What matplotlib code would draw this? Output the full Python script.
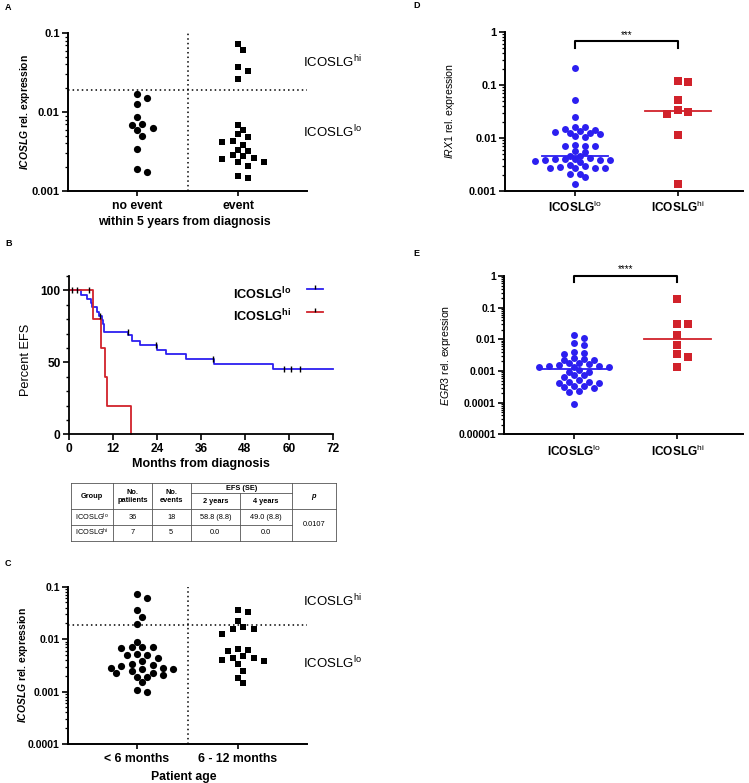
import numpy as np
import matplotlib
matplotlib.use("Agg")
import matplotlib.pyplot as plt
from matplotlib.ticker import FixedLocator, LogLocator, NullFormatter, FuncFormatter, MultipleLocator

plt.rcParams['font.family'] = ['Liberation Sans', 'DejaVu Sans']
plt.rcParams['mathtext.fontset'] = 'custom'
plt.rcParams['mathtext.rm'] = 'Liberation Sans'
plt.rcParams['mathtext.it'] = 'Liberation Sans:italic'
plt.rcParams['mathtext.bf'] = 'Liberation Sans:bold'
plt.rcParams['mathtext.bfit'] = 'Liberation Sans:italic:bold'

# panel A data
a_cats = ['no event', 'event']
a_no_event = [0.0168, 0.0127, 0.0149, 0.00865, 0.0071, 0.00634, 0.00692, 0.00586,
              0.00492, 0.0034, 0.00176, 0.00188]
a_event = [0.0719, 0.0604, 0.0372, 0.0330, 0.0262, 0.0069, 0.0060, 0.0052, 0.00478,
           0.00421, 0.00434, 0.00382, 0.00321, 0.00333, 0.00275, 0.00286, 0.00254,
           0.00264, 0.00231, 0.00231, 0.00205, 0.00148, 0.00153]
cutoff = 0.019

# panel B data (Kaplan-Meier steps)
km_lo_t = [0, 3.2, 4.8, 5.9, 6.3, 7.5, 8.1, 8.9, 9.3, 9.6, 16.2, 17.2, 19.4, 23.9, 26.5, 31.9, 39.6, 55.7, 72]
km_lo_s = [100, 97.1, 94.1, 91.2, 88.2, 85.3, 82.4, 79.4, 76.5, 71.2, 68.8, 65.1, 62.1, 58.8, 55.6, 52.1, 49.0, 45.4, 45.4]
km_hi_t = [0, 6.5, 8.6, 9.8, 10.3, 16.8]
km_hi_s = [100, 80, 60, 40, 20, 0]
cens_lo_t = [0.9, 2.3, 8.4, 16.0, 23.7, 39.4, 58.5, 60.6, 62.9]
cens_lo_s = [100, 100, 82.4, 71.2, 62.1, 52.1, 45.4, 45.4, 45.4]
cens_hi_t = [5.4]
cens_hi_s = [100]

# table under B
tbl_lo = ['ICOSLG$^{\\mathrm{lo}}$', '36', '18', '58.8 (8.8)', '49.0 (8.8)']
tbl_hi = ['ICOSLG$^{\\mathrm{hi}}$', '7', '5', '0.0', '0.0']
tbl_p = '0.0107'

# panel C data
c_cats = ['< 6 months', '6 - 12 months']
c_under6 = [0.0715, 0.060, 0.0356, 0.0265, 0.0198, 0.0089, 0.00714, 0.00685, 0.00695,
            0.00714, 0.00497, 0.00497, 0.00527, 0.00436, 0.00388, 0.00335, 0.00326,
            0.00303, 0.00286, 0.00286, 0.00273, 0.00266, 0.00243, 0.0023, 0.0023,
            0.00193, 0.00187, 0.00204, 0.0015, 0.0010, 0.00108]
c_6to12 = [0.033, 0.0366, 0.0223, 0.0167, 0.0153, 0.0153, 0.0126, 0.00583, 0.00646,
           0.0061, 0.0043, 0.00399, 0.0043, 0.00388, 0.00483, 0.00335, 0.0025,
           0.00182, 0.00146]

# panel D data
grp_cats = ['ICOSLG$^{\\mathrm{lo}}$', 'ICOSLG$^{\\mathrm{hi}}$']
d_lo = [0.212, 0.0514, 0.0249, 0.0137, 0.0126, 0.0117, 0.0148, 0.0159, 0.0164, 0.0106,
        0.0109, 0.0122, 0.0132, 0.0140, 0.00738, 0.00706, 0.00697, 0.00716, 0.00569,
        0.00537, 0.00463, 0.00463, 0.00402, 0.00413, 0.0039, 0.00368, 0.00347, 0.00385,
        0.00402, 0.0038, 0.00402, 0.00296, 0.00284, 0.00276, 0.00268, 0.00276, 0.00276,
        0.0031, 0.00212, 0.00207, 0.00184, 0.00134]
d_hi = [0.112, 0.117, 0.0514, 0.0333, 0.0284, 0.0314, 0.0116, 0.00137]
d_lo_med = 0.00464
d_hi_med = 0.0323

# panel E data
e_lo = [0.0134, 0.0113, 0.0077, 0.0068, 0.00346, 0.0040, 0.0038, 0.00235, 0.00224,
        0.00224, 0.00253, 0.00152, 0.00138, 0.00168, 0.00145, 0.00176, 0.00138, 0.00184,
        0.00138, 0.00145, 0.00108, 0.00096, 0.00096, 0.00074, 0.00052, 0.00046, 0.00041,
        0.00041, 0.00046, 0.00064, 0.00074, 0.00034, 0.0003, 0.00024, 0.00021, 0.00032,
        0.00034, 0.000091]
e_hi = [0.193, 0.0313, 0.0299, 0.0138, 0.0068, 0.00346, 0.00272, 0.00138]
e_lo_med = 0.00114
e_hi_med = 0.0103

W, H = 749, 783
fig = plt.figure(figsize=(W / 100, H / 100), dpi=100)
BLUE = '#2c1ff0'
RED = '#d1222b'


def rect(left, right, top, bottom):
    return [left / W, 1 - bottom / H, (right - left) / W, (bottom - top) / H]


def swarm(ax, xc, vals, ms, gap=0.97):
    d = ms * fig.dpi / 72.0
    pts = ax.transData.transform(np.column_stack([np.full(len(vals), xc), vals]))
    out = pts.copy()
    placed = []
    for i in np.argsort(pts[:, 1])[::-1]:
        y = pts[i, 1]
        for k in range(80):
            off = ((k + 1) // 2) * 0.72 * d * (1 if k % 2 else -1)
            x = pts[i, 0] + off
            if all((x - px) ** 2 + (y - py) ** 2 >= (gap * d) ** 2 for px, py in placed):
                break
        placed.append((x, y))
        out[i, 0] = x
    return ax.transData.inverted().transform(out)[:, 0]


def log_label(v, pos):
    return np.format_float_positional(v, trim='-')


def dot_axes(r, xlim, ylim, ticks, cats, catsize=8.8, ticksize=8.0):
    ax = fig.add_axes(r)
    ax.set_yscale('log')
    ax.set_xlim(xlim)
    ax.set_ylim(ylim)
    for s in ['top', 'right']:
        ax.spines[s].set_visible(False)
    for s in ['left', 'bottom']:
        ax.spines[s].set_linewidth(1.4)
    ax.yaxis.set_major_locator(FixedLocator(ticks))
    ax.yaxis.set_major_formatter(FuncFormatter(log_label))
    ax.yaxis.set_minor_locator(LogLocator(base=10, subs=np.arange(2, 10)))
    ax.yaxis.set_minor_formatter(NullFormatter())
    ax.tick_params(axis='y', which='major', length=4, width=1.2, labelsize=ticksize, pad=2)
    ax.tick_params(axis='y', which='minor', length=2.2, width=0.9)
    ax.set_xticks([1, 2])
    ax.set_xticklabels(cats, fontsize=catsize, fontweight='bold')
    ax.tick_params(axis='x', length=3.5, width=1.2, pad=3)
    for lab in ax.get_yticklabels():
        lab.set_fontweight('bold')
    return ax


def annotate_hilo(y_hi, y_lo):
    fig.text(303 / W, 1 - y_hi / H, 'ICOSLG$^{\\mathrm{hi}}$', fontsize=9.5, va='center', ha='left')
    fig.text(303 / W, 1 - y_lo / H, 'ICOSLG$^{\\mathrm{lo}}$', fontsize=9.5, va='center', ha='left')


# ---- panel A
axA = dot_axes(rect(68, 307, 33, 191), (0.317, 2.683), (0.001, 0.1), [0.001, 0.01, 0.1], a_cats)
axA.plot(swarm(axA, 1, a_no_event, 5.2), a_no_event, 'o', color='black', ms=5.2, mew=0, clip_on=False)
axA.plot(swarm(axA, 2, a_event, 5.2), a_event, 's', color='black', ms=4.9, mew=0, clip_on=False)
axA.axhline(cutoff, color='black', ls=(0, (1, 2)), lw=1.1)
axA.axvline(1.5, color='black', ls=(0, (1, 2)), lw=1.1)
axA.set_ylabel('$\\mathbfit{ICOSLG}$ rel. expression', fontsize=7.4, fontweight='bold')
axA.yaxis.set_label_coords(-0.15, 0.5)
axA.set_xlabel('within 5 years from diagnosis', fontsize=8.8, fontweight='bold')
axA.xaxis.set_label_coords(0.486, -0.158)
annotate_hilo(62, 132)

# ---- panel B
axB = fig.add_axes(rect(69, 333, 276, 434.3))
axB.step(km_lo_t, km_lo_s, where='post', color=BLUE, lw=1.3, clip_on=False)
axB.step(km_hi_t, km_hi_s, where='post', color=RED, lw=1.3, clip_on=False)
axB.plot(cens_lo_t, cens_lo_s, ls='none', marker='|', color='black', ms=4, mew=1.0)
axB.plot(cens_hi_t, cens_hi_s, ls='none', marker='|', color='black', ms=4, mew=1.0)
axB.set_xlim(0, 72)
axB.set_ylim(0, 110)
for s in ['top', 'right']:
    axB.spines[s].set_visible(False)
for s in ['left', 'bottom']:
    axB.spines[s].set_linewidth(1.3)
axB.set_xticks(np.arange(0, 73, 12))
axB.set_yticks([0, 50, 100])
axB.yaxis.set_minor_locator(MultipleLocator(10))
axB.tick_params(which='major', length=4, width=1.2, labelsize=8.6, pad=2)
axB.tick_params(axis='y', which='minor', length=2.5, width=1.0)
for lab in axB.get_xticklabels() + axB.get_yticklabels():
    lab.set_fontweight('bold')
axB.set_ylabel('Percent EFS', fontsize=9.2)
axB.yaxis.set_label_coords(-0.14, 0.47)
axB.set_xlabel('Months from diagnosis', fontsize=9.0, fontweight='bold')
axB.xaxis.set_label_coords(0.5, -0.148)
# legend
for yl, yt, lab, col in [(0.916, 0.885, 'ICOSLG$^{\\mathbf{lo}}$', BLUE), (0.774, 0.75, 'ICOSLG$^{\\mathbf{hi}}$', RED)]:
    axB.plot([0.902, 0.962], [yl, yl], color=col, lw=1.3, transform=axB.transAxes, clip_on=False)
    axB.plot([0.932], [yl + 0.012], marker='|', color='black', ms=3.5, mew=1.0, transform=axB.transAxes, clip_on=False)
    axB.text(0.621, yt, lab, fontsize=9.2, fontweight='bold', va='center', ha='left', transform=axB.transAxes)

# ---- table
tx = [70.7, 113.3, 151.7, 190.7, 240, 291.7, 336]
ty = [483.3, 493.3, 509.3, 525, 540.7]
lc = '#555555'


def hline(y, x0, x1):
    fig.add_artist(plt.Line2D([x0 / W, x1 / W], [1 - y / H, 1 - y / H], color=lc, lw=0.6))


def vline(x, y0, y1):
    fig.add_artist(plt.Line2D([x / W, x / W], [1 - y0 / H, 1 - y1 / H], color=lc, lw=0.6))


hline(ty[0], tx[0], tx[6])
hline(ty[1], tx[3], tx[5])
hline(ty[2], tx[0], tx[6])
hline(ty[3], tx[0], tx[5])
hline(ty[4], tx[0], tx[6])
for x in [tx[0], tx[1], tx[2], tx[3], tx[5], tx[6]]:
    vline(x, ty[0], ty[4])
vline(tx[4], ty[1], ty[4])


def cell(x, y, s, bold=False, style='normal'):
    fig.text(x / W, 1 - y / H, s, fontsize=5.3, ha='center', va='center',
             fontweight='bold' if bold else 'normal', style=style, linespacing=1.3)


hy = (ty[0] + ty[2]) / 2
cell((tx[0] + tx[1]) / 2, hy, 'Group', bold=True)
cell((tx[1] + tx[2]) / 2, hy, 'No.\npatiients', bold=True)
cell((tx[2] + tx[3]) / 2, hy, 'No.\nevents', bold=True)
cell((tx[3] + tx[5]) / 2, (ty[0] + ty[1]) / 2, 'EFS (SE)', bold=True)
cell((tx[3] + tx[4]) / 2, (ty[1] + ty[2]) / 2, '2 years', bold=True)
cell((tx[4] + tx[5]) / 2, (ty[1] + ty[2]) / 2, '4 years', bold=True)
cell((tx[5] + tx[6]) / 2, hy, 'p', bold=True, style='italic')
for row, (y0, y1) in [(tbl_lo, (ty[2], ty[3])), (tbl_hi, (ty[3], ty[4]))]:
    for j, s in enumerate(row):
        cell((tx[j] + tx[j + 1]) / 2, (y0 + y1) / 2, s)
cell((tx[5] + tx[6]) / 2, ty[3], tbl_p)

# ---- panel C
axC = dot_axes(rect(68, 307, 586.7, 744), (0.317, 2.683), (0.0001, 0.1),
               [0.0001, 0.001, 0.01, 0.1], c_cats, ticksize=7.5)
axC.plot(swarm(axC, 1, c_under6, 5.2), c_under6, 'o', color='black', ms=5.2, mew=0, clip_on=False)
axC.plot(swarm(axC, 2, c_6to12, 5.2), c_6to12, 's', color='black', ms=4.9, mew=0, clip_on=False)
axC.axhline(cutoff, color='black', ls=(0, (1, 2)), lw=1.1)
axC.axvline(1.5, color='black', ls=(0, (1, 2)), lw=1.1)
axC.set_ylabel('$\\mathbfit{ICOSLG}$ rel. expression', fontsize=7.4, fontweight='bold')
axC.yaxis.set_label_coords(-0.158, 0.5)
axC.set_xlabel('Patient age', fontsize=8.8, fontweight='bold')
axC.xaxis.set_label_coords(0.486, -0.17)
annotate_hilo(600.7, 663)

# ---- panel D
axD = dot_axes(rect(505, 743, 32, 191), (0.318, 2.635), (0.001, 1),
               [0.001, 0.01, 0.1, 1], grp_cats, catsize=8.6, ticksize=7.9)
axD.plot(swarm(axD, 1, d_lo, 5.0, gap=0.85), d_lo, 'o', color=BLUE, ms=5.0, mew=0, clip_on=False)
axD.plot(swarm(axD, 2, d_hi, 5.2), d_hi, 's', color=RED, ms=5.2, mew=0, clip_on=False)
axD.plot([0.68, 1.32], [d_lo_med, d_lo_med], color=BLUE, lw=1.3)
axD.plot([1.68, 2.32], [d_hi_med, d_hi_med], color=RED, lw=1.3)
axD.plot([1, 1, 2, 2], [0.506, 0.686, 0.686, 0.506], color='black', lw=1.5, clip_on=False)
axD.text(1.5, 0.86, '***', ha='center', va='center', fontsize=7)
axD.set_ylabel('$\\mathit{IRX1}$ rel. expression', fontsize=7.6)
axD.yaxis.set_label_coords(-0.2, 0.5)

# ---- panel E
axE = dot_axes(rect(504, 743, 276, 434.3), (0.318, 2.635), (0.00001, 1),
               [0.00001, 0.0001, 0.001, 0.01, 0.1, 1], grp_cats, catsize=8.6, ticksize=7.5)
axE.plot(swarm(axE, 1, e_lo, 5.0, gap=0.85), e_lo, 'o', color=BLUE, ms=5.0, mew=0, clip_on=False)
axE.plot(swarm(axE, 2, e_hi, 5.2), e_hi, 's', color=RED, ms=5.2, mew=0, clip_on=False)
axE.plot([0.68, 1.32], [e_lo_med, e_lo_med], color=BLUE, lw=1.3)
axE.plot([1.68, 2.32], [e_hi_med, e_hi_med], color=RED, lw=1.3)
axE.plot([1, 1, 2, 2], [0.63, 1.0, 1.0, 0.63], color='black', lw=1.5, clip_on=False)
axE.text(1.5, 1.6, '****', ha='center', va='center', fontsize=7, clip_on=False)
axE.set_ylabel('$\\mathit{EGR3}$ rel. expression', fontsize=7.6)
axE.yaxis.set_label_coords(-0.215, 0.5)

# panel letters
for lx, ly, s in [(5, 7, 'A'), (5, 243, 'B'), (5, 563, 'C'), (413, 6, 'D'), (413, 253, 'E')]:
    fig.text(lx / W, 1 - ly / H, s, fontsize=6.5, fontweight='bold', ha='left', va='center')

fig.savefig('out.png', dpi=100)
